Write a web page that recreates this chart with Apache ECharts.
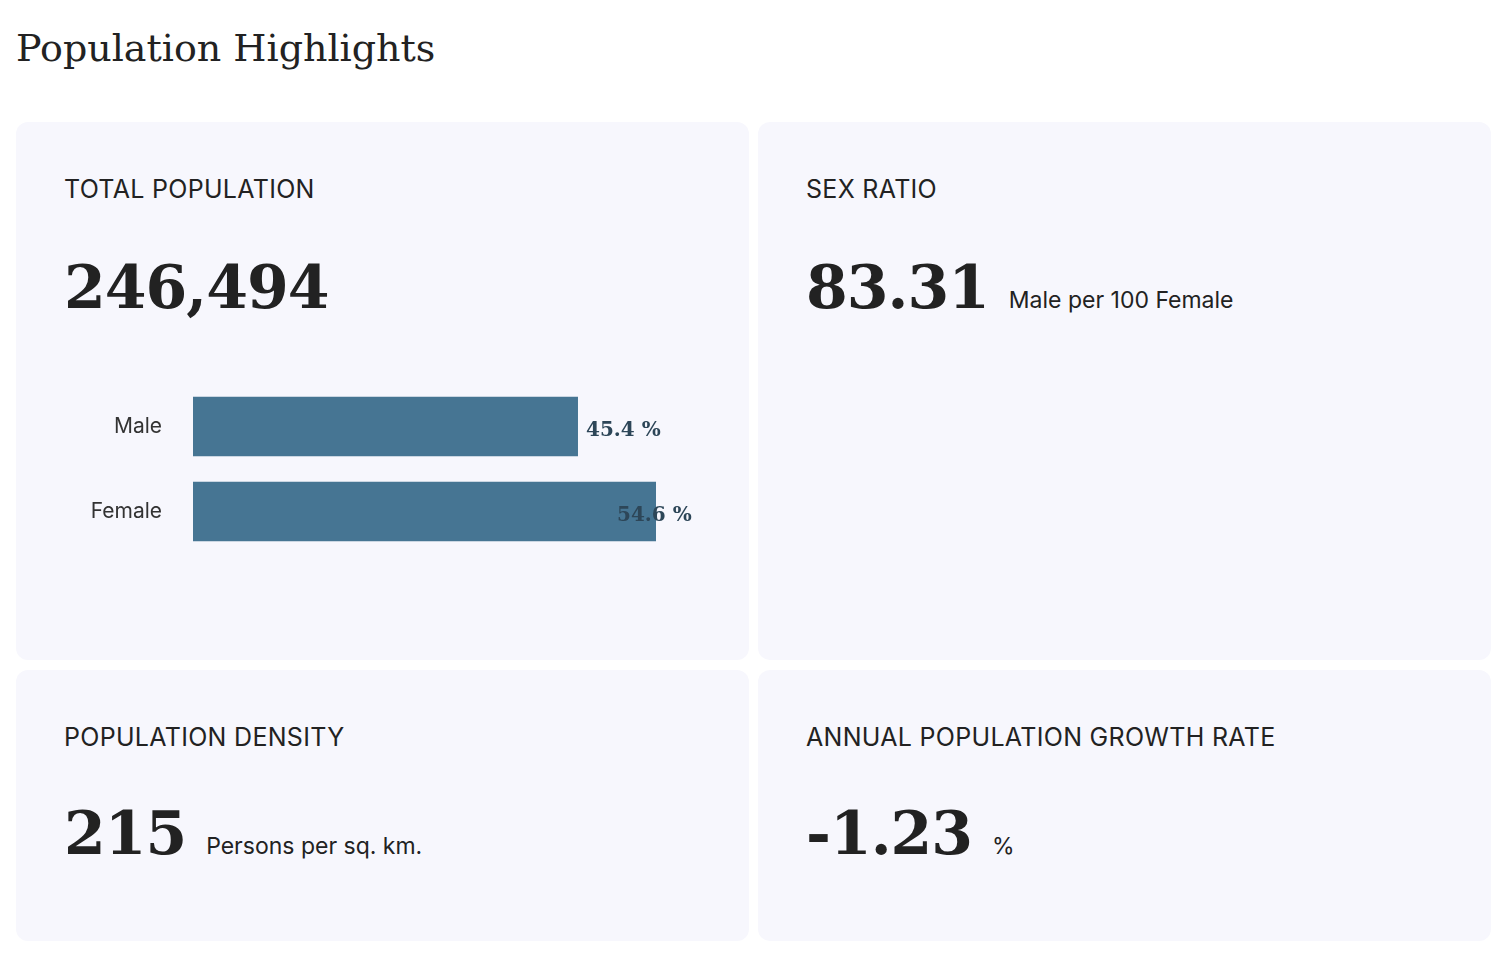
<!DOCTYPE html>
<html>
<head>
<meta charset="utf-8">
<script src="https://cdn.jsdelivr.net/npm/echarts@6/dist/echarts.min.js"></script>
<style>
  body { margin: 0; background: #fff; font-family: Inter, "Noto Sans", sans-serif; color: #222; }
  h1 { position: absolute; left: 16px; top: 26px; margin: 0; font-family: "DejaVu Serif", serif; font-weight: normal; font-size: 38px; color: #222; }
  .card { position: absolute; background: #f7f7fd; border-radius: 12px; }
  .cap { position: absolute; left: 48px; font-size: 25px; color: #222; letter-spacing: 0.3px; }
  .big { position: absolute; left: 48px; font-family: "DejaVu Serif", serif; font-weight: bold; font-size: 60px; color: #222; white-space: nowrap; letter-spacing: -1px; }
  .big span { font-family: Inter, "Noto Sans", sans-serif; font-weight: normal; font-size: 23px; letter-spacing: 0; }
  #bars { position: absolute; left: 40px; top: 380px; width: 700px; height: 180px; }
</style>
</head>
<body>
<h1>Population Highlights</h1>
<div class="card" style="left:16px;top:122px;width:733px;height:538px">
  <div class="cap" style="top:52px">TOTAL POPULATION</div>
  <div class="big" style="top:130px">246,494</div>
</div>
<div class="card" style="left:758px;top:122px;width:733px;height:538px">
  <div class="cap" style="top:52px">SEX RATIO</div>
  <div class="big" style="top:130px">83.31 <span>Male per 100 Female</span></div>
</div>
<div class="card" style="left:16px;top:670px;width:733px;height:271px">
  <div class="cap" style="top:52px">POPULATION DENSITY</div>
  <div class="big" style="top:128px">215 <span>Persons per sq. km.</span></div>
</div>
<div class="card" style="left:758px;top:670px;width:733px;height:271px">
  <div class="cap" style="top:52px">ANNUAL POPULATION GROWTH RATE</div>
  <div class="big" style="top:128px">-1.23 <span>%</span></div>
</div>
<div id="bars"></div>
<script>
const sexes = ['Male', 'Female'];
const shares = [45.4, 54.6];
const labelOffsets = [[0, 4], [-47, 4]];

let myChart = echarts.init(document.getElementById('bars'));
let option = {
    animation: false,
    grid: { left: 153, right: 84, top: 4, bottom: 6 },
    xAxis: { type: 'value', min: 0, max: 54.6, show: false },
    yAxis: {
        type: 'category',
        inverse: true,
        data: sexes,
        axisLine: { show: false },
        axisTick: { show: false },
        axisLabel: { margin: 31, fontSize: 21, color: '#333', fontFamily: 'Inter' }
    },
    series: [{
        type: 'bar',
        barCategoryGap: '30%',
        itemStyle: { color: '#467593' },
        data: shares.map((v, i) => ({
            value: v,
            label: {
                show: true, position: 'right', distance: 8, offset: labelOffsets[i],
                formatter: '{c} %', fontFamily: 'DejaVu Serif', fontWeight: 'bold',
                fontSize: 20, color: '#2d4658'
            }
        }))
    }]
};
option && myChart.setOption(option);
</script>
</body>
</html>
